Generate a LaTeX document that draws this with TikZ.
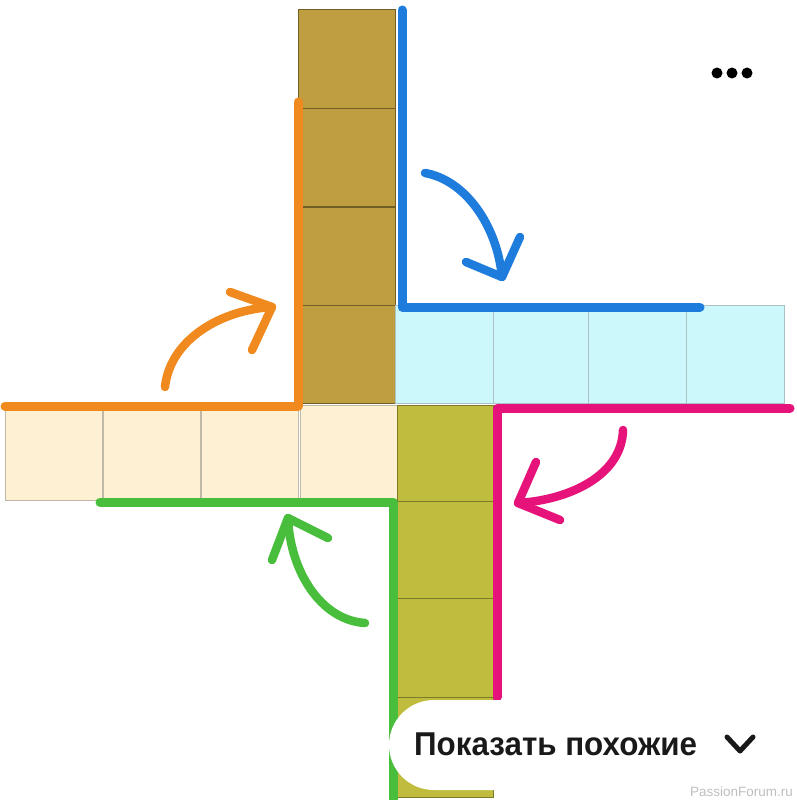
\documentclass[tikz,border=0pt]{standalone}
\usepackage{fontspec}
\setmainfont{Liberation Sans}
\newfontfamily\btnfont[FakeStretch=0.95]{Liberation Sans}
\usetikzlibrary{arrows}
\definecolor{topsq}{HTML}{BE9E41}
\definecolor{botsq}{HTML}{C0BC3E}
\definecolor{rightsq}{HTML}{CCF8FB}
\definecolor{leftsq}{HTML}{FEF0D2}
\definecolor{blueline}{HTML}{1E7DDC}
\definecolor{orangeline}{HTML}{F0891E}
\definecolor{pinkline}{HTML}{E5137A}
\definecolor{greenline}{HTML}{48BE3C}
\tikzset{
  cell/.style={line width=1pt},
  fold/.style={line width=9pt, line cap=round, line join=round},
  turn/.style={line width=8.5pt, line cap=round, line join=round}
}

\begin{document}
\begin{tikzpicture}[x=1pt, y=-1pt]
\useasboundingbox[fill=white] (0,0) rectangle (796,800);
\foreach \y in {10,108,207,305}
  \draw[cell, fill=topsq, draw=topsq!60!black] (298,\y) rectangle (395,\y+98);
\foreach \x in {395,493,588,686}
  \draw[cell, fill=rightsq, draw=rightsq!55!gray] (\x,305) rectangle (\x+98,403);
\foreach \x in {5,103,201,300}
  \draw[cell, fill=leftsq, draw=leftsq!50!gray] (\x,405) rectangle (\x+97,500);
\foreach \y in {405,501,598,697}
  \draw[cell, fill=botsq, draw=botsq!65!black] (397,\y) rectangle (493,\y+100);
\draw[fold, blueline] (402,10) -- (402,307) -- (700,307);
\draw[fold, orangeline] (298,102) -- (298,406) -- (5,406);
\draw[fold, pinkline] (790,408) -- (497,408) -- (497,697);
\draw[fold, greenline] (100,502) -- (393,502) -- (393,800);
\coordinate (b0) at (425,173); \coordinate (b1) at (502,277);
\coordinate (o0) at (165,387); \coordinate (o1) at (272,307);
\coordinate (p0) at (623,430); \coordinate (p1) at (518,503);
\coordinate (g0) at (365,623); \coordinate (g1) at (288,518);
\draw[turn, blueline] (b0) .. controls (465,180) and (497,225) .. (b1);
\draw[turn, blueline] (466,262) -- (b1) -- (520,237);
\draw[turn, orangeline] (o0) .. controls (170,340) and (220,310) .. (o1);
\draw[turn, orangeline] (230,292) -- (o1) -- (252,350);
\draw[turn, pinkline] (p0) .. controls (622,475) and (570,500) .. (p1);
\draw[turn, pinkline] (536,462) -- (p1) -- (560,520);
\draw[turn, greenline] (g0) .. controls (320,620) and (290,570) .. (g1);
\draw[turn, greenline] (272,560) -- (g1) -- (328,538);
\foreach \x in {717,732,747}
  \fill[black] (\x,73) circle (5.5);
\fill[white, rounded corners=45pt] (389,700) rectangle (840,790);
\node[anchor=base west, inner sep=0pt, text=black!90, font=\btnfont\bfseries\fontsize{33}{36}\selectfont] (more) at (414,755) {Показать похожие};
\draw[line width=5pt, line cap=round, line join=round, black!90] (727,737) -- (740,751) -- (753,737);
\node[anchor=base east, inner sep=0pt, text=black!25, font=\fontsize{13.5}{14}\selectfont] (site) at (793,796) {PassionForum.ru};
\end{tikzpicture}
\end{document}
